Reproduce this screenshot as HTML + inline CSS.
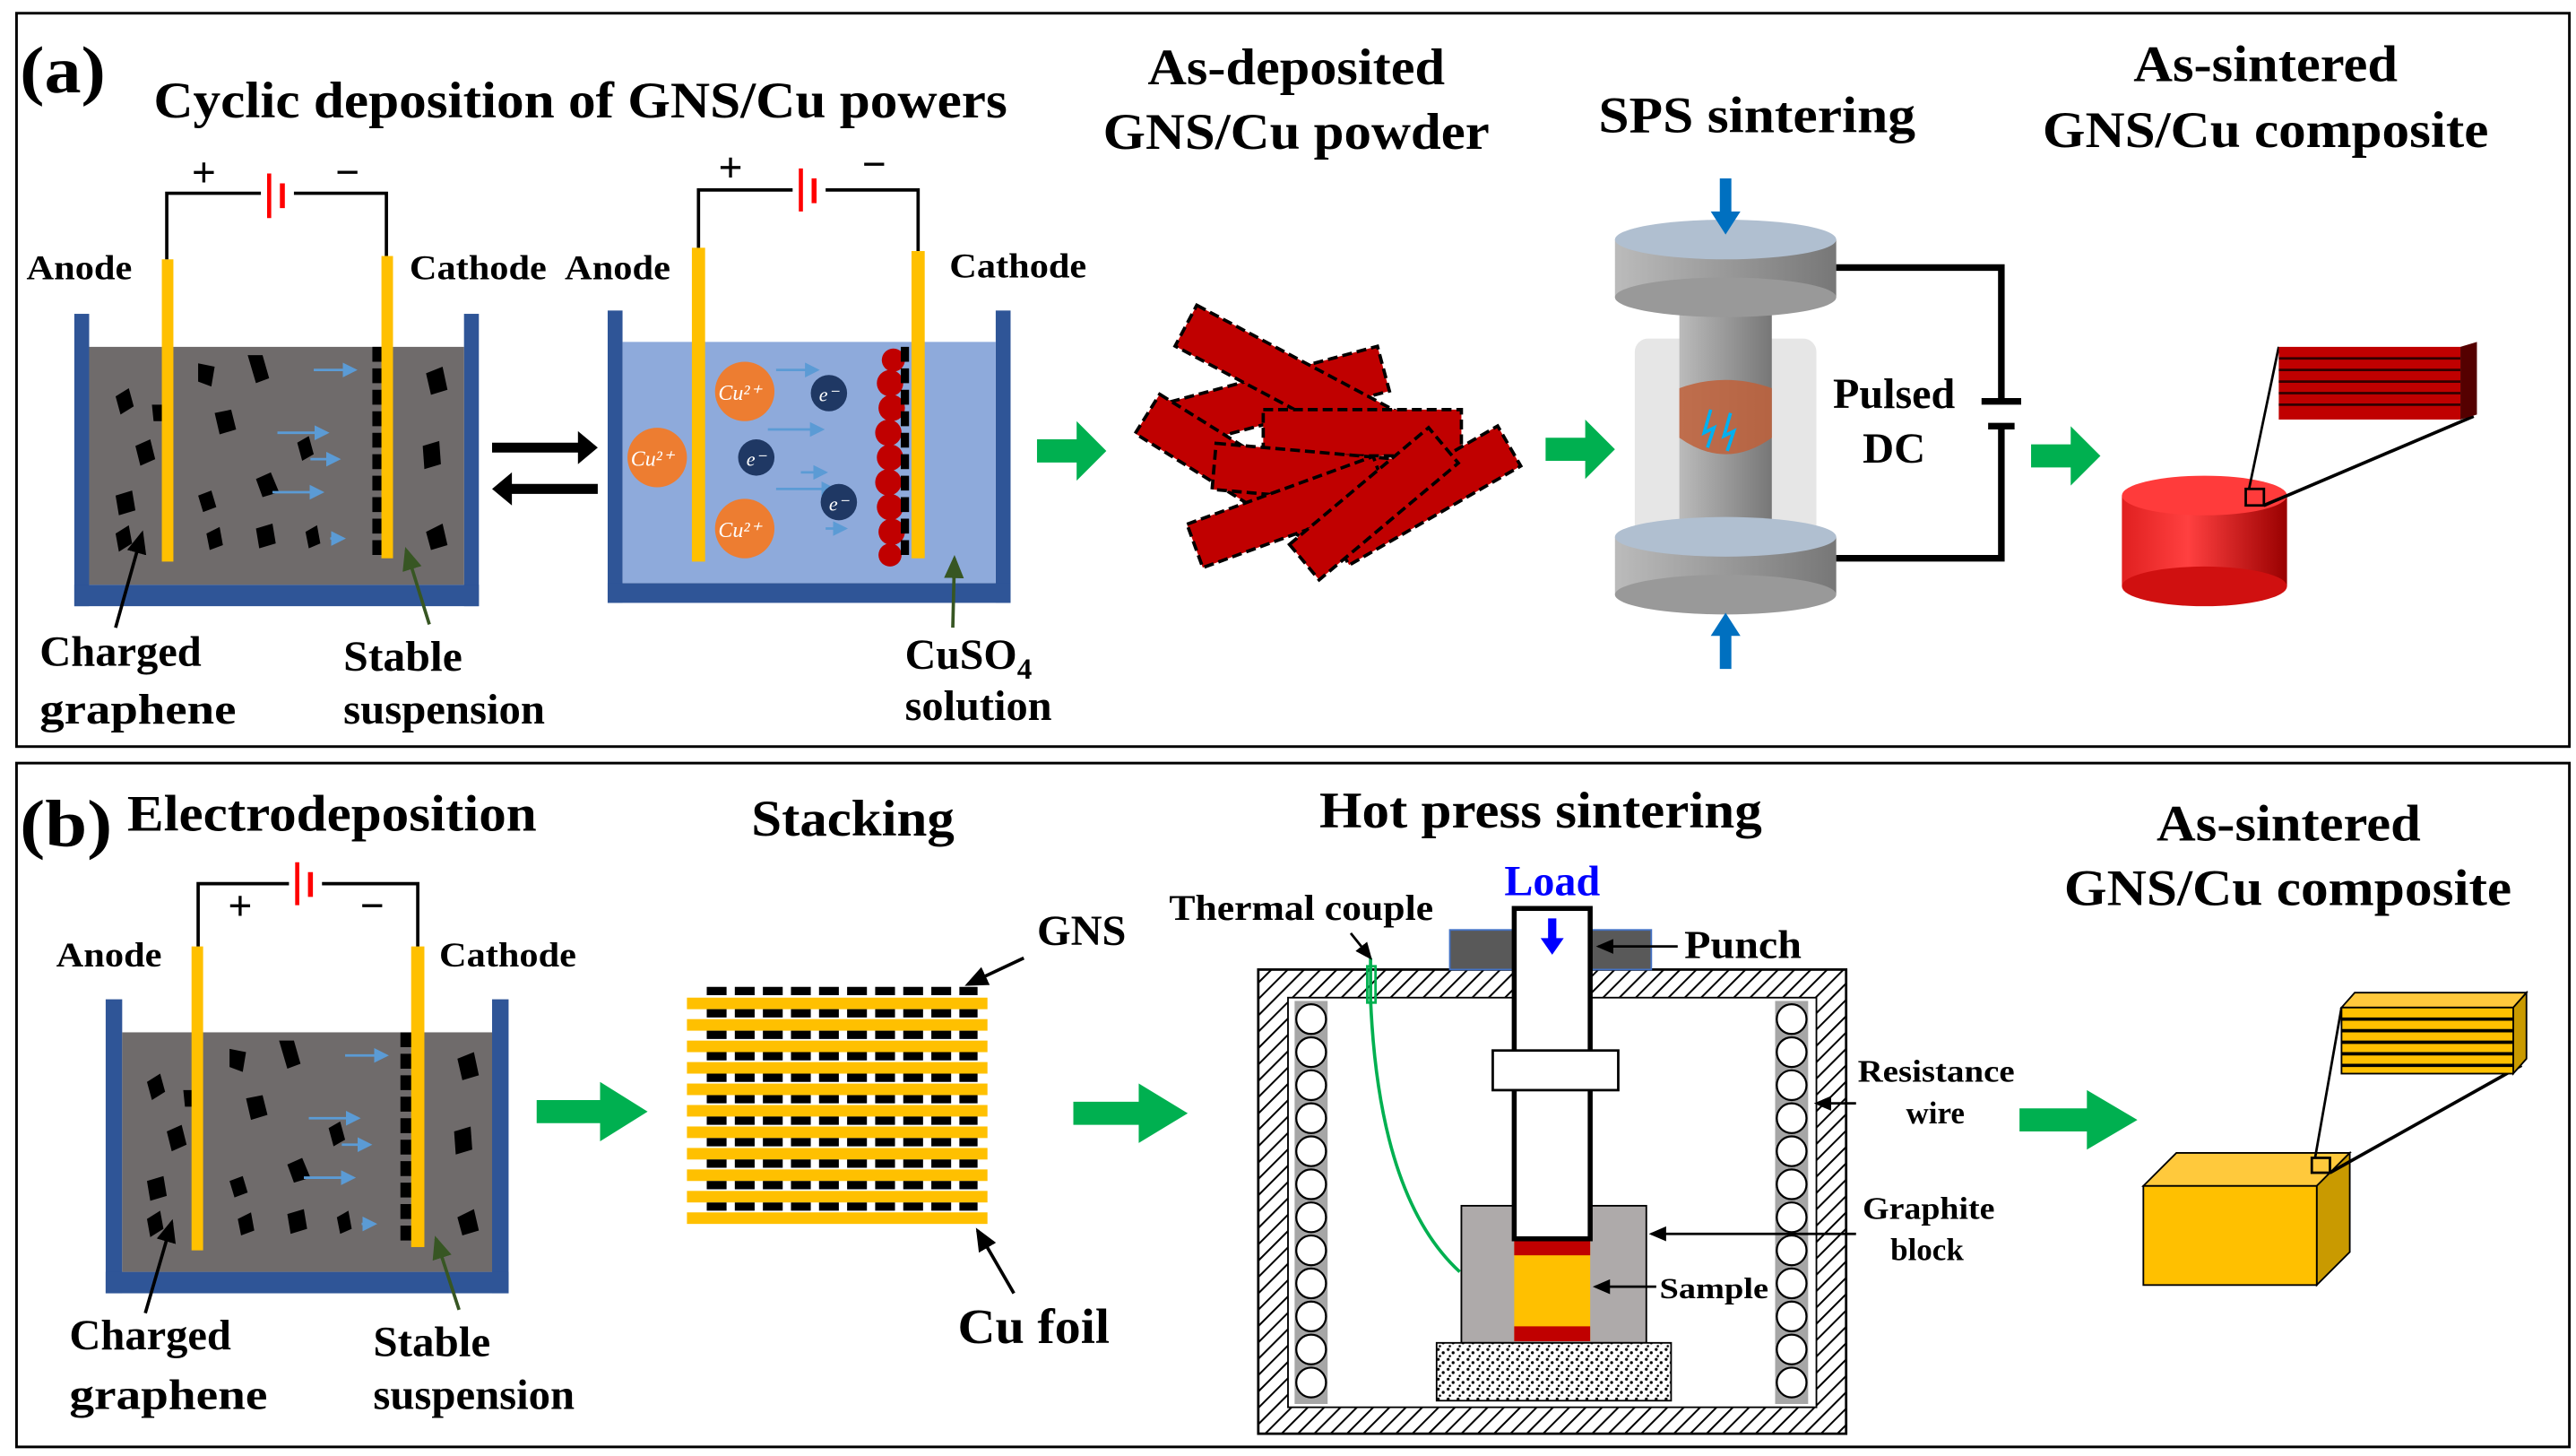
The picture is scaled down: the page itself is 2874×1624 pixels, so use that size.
<!DOCTYPE html>
<html><head><meta charset="utf-8"><style>
html,body{margin:0;padding:0;background:#fff;}
svg{display:block;}
text{font-family:"Liberation Serif",serif;font-weight:bold;fill:#000;}
</style></head><body>
<svg width="2874" height="1624" viewBox="0 0 1560 881.5" xmlns="http://www.w3.org/2000/svg">
<defs>
<pattern id="hatch" width="7" height="7" patternUnits="userSpaceOnUse" patternTransform="rotate(45)">
<rect width="7" height="7" fill="#fff"/><line x1="0" y1="0" x2="0" y2="7" stroke="#000" stroke-width="2.2"/></pattern>
<pattern id="speck" width="6" height="6" patternUnits="userSpaceOnUse">
<rect width="6" height="6" fill="#fff"/><circle cx="1" cy="1" r="0.9" fill="#000"/><circle cx="4" cy="3" r="0.9" fill="#000"/><circle cx="2" cy="5" r="0.7" fill="#000"/></pattern>
<linearGradient id="gcyl" x1="0" x2="1"><stop offset="0" stop-color="#bbb"/><stop offset="0.5" stop-color="#999"/><stop offset="1" stop-color="#777"/></linearGradient>
<linearGradient id="rcyl" x1="0" x2="1"><stop offset="0" stop-color="#e02020"/><stop offset="0.4" stop-color="#ff4040"/><stop offset="1" stop-color="#900"/></linearGradient>
<marker id="ah" markerWidth="8" markerHeight="8" refX="6" refY="4" orient="auto"><path d="M0 1 L7 4 L0 7 z" fill="#000"/></marker>
<marker id="ahg" markerWidth="8" markerHeight="8" refX="6" refY="4" orient="auto"><path d="M0 1 L7 4 L0 7 z" fill="#375623"/></marker>
<marker id="ahb" markerWidth="6" markerHeight="6" refX="5" refY="3" orient="auto"><path d="M0 0 L6 3 L0 6 z" fill="#5b9bd5"/></marker>
<g id="garr"><path d="M0 -7 h24 v-11 l18 18 l-18 18 v-11 h-24 z" fill="#00b050"/></g>
<g id="flk">
<path d="M70 240 l8 -5 l3 11 l-8 5z"/><path d="M82 270 l9 -4 l3 12 l-9 4z"/><path d="M120 220 l10 2 l-2 12 l-8 -3z"/>
<path d="M150 215 l9 0 l4 14 l-8 3z"/><path d="M130 250 l10 -2 l3 12 l-10 3z"/><path d="M155 290 l9 -4 l5 12 l-10 3z"/>
<path d="M120 300 l8 -3 l3 10 l-8 3z"/><path d="M70 300 l10 -3 l2 12 l-10 3z"/><path d="M70 323 l8 -5 l2 11 l-8 5z"/>
<path d="M125 323 l8 -4 l2 11 l-8 3z"/><path d="M155 320 l10 -3 l2 12 l-10 3z"/><path d="M185 322 l7 -4 l2 11 l-7 3z"/>
<path d="M180 268 l7 -4 l3 11 l-7 4z"/><path d="M258 226 l10 -4 l3 14 l-10 3z"/><path d="M256 270 l10 -3 l1 14 l-10 3z"/>
<path d="M258 322 l10 -5 l3 13 l-10 3z"/><path d="M92 245 l8 0 l1 10 l-8 0z"/>
</g>
</defs>

<rect x="10" y="8" width="1546" height="444" fill="none" stroke="#000" stroke-width="1.6"/>
<rect x="10" y="462" width="1546" height="414" fill="none" stroke="#000" stroke-width="1.6"/>

<text x="12" y="56" font-size="40" textLength="52" lengthAdjust="spacingAndGlyphs">(a)</text>
<text x="93" y="71" font-size="31" textLength="517" lengthAdjust="spacingAndGlyphs">Cyclic deposition of GNS/Cu powers</text>
<text x="695" y="51" font-size="31" textLength="180" lengthAdjust="spacingAndGlyphs">As-deposited</text>
<text x="668" y="90" font-size="31" textLength="234" lengthAdjust="spacingAndGlyphs">GNS/Cu powder</text>
<text x="968" y="80" font-size="31" textLength="192" lengthAdjust="spacingAndGlyphs">SPS sintering</text>
<text x="1292" y="49" font-size="31" textLength="160" lengthAdjust="spacingAndGlyphs">As-sintered</text>
<text x="1237" y="89" font-size="31" textLength="270" lengthAdjust="spacingAndGlyphs">GNS/Cu composite</text>

<!-- beaker 1 -->
<rect x="45" y="190" width="9" height="177" fill="#2f5597"/>
<rect x="281" y="190" width="9" height="177" fill="#2f5597"/>
<rect x="45" y="354" width="245" height="13" fill="#2f5597"/>
<rect x="54" y="210" width="227" height="144" fill="#6f6b6b"/>
<g fill="#000"><use href="#flk"/></g>
<line x1="229" y1="210" x2="229" y2="340" stroke="#000" stroke-width="7" stroke-dasharray="9 4"/>
<g stroke="#5b9bd5" stroke-width="1.5" marker-end="url(#ahb)">
<line x1="190" y1="224" x2="215" y2="224"/><line x1="168" y1="262" x2="198" y2="262"/><line x1="188" y1="278" x2="205" y2="278"/><line x1="165" y1="298" x2="195" y2="298"/><line x1="200" y1="326" x2="208" y2="326"/>
</g>
<rect x="98" y="157" width="7" height="183" fill="#ffc000"/>
<rect x="231" y="155" width="7" height="183" fill="#ffc000"/>
<path d="M101 157 V117 H234 V155" fill="none" stroke="#000" stroke-width="2"/>
<rect x="158" y="108" width="20" height="18" fill="#fff"/>
<line x1="163" y1="105" x2="163" y2="132" stroke="#f00" stroke-width="2.5"/>
<line x1="171" y1="111" x2="171" y2="126" stroke="#f00" stroke-width="3"/>
<text x="116" y="113" font-size="26" font-weight="normal">+</text>
<text x="203" y="113" font-size="26" font-weight="normal">−</text>
<text x="16" y="169" font-size="21" textLength="64" lengthAdjust="spacingAndGlyphs">Anode</text>
<text x="248" y="169" font-size="21" textLength="83" lengthAdjust="spacingAndGlyphs">Cathode</text>
<line x1="70" y1="380" x2="86" y2="323" stroke="#000" stroke-width="2" marker-end="url(#ah)"/>
<line x1="260" y1="378" x2="246" y2="333" stroke="#375623" stroke-width="2" marker-end="url(#ahg)"/>
<text x="24" y="403" font-size="26" textLength="98" lengthAdjust="spacingAndGlyphs">Charged</text>
<text x="24" y="438" font-size="26" textLength="119" lengthAdjust="spacingAndGlyphs">graphene</text>
<text x="208" y="406" font-size="26" textLength="72" lengthAdjust="spacingAndGlyphs">Stable</text>
<text x="208" y="438" font-size="26" textLength="122" lengthAdjust="spacingAndGlyphs">suspension</text>

<path d="M298 268 h52 v-7 l12 10 l-12 10 v-7 h-52z" fill="#000"/>
<path d="M362 293 h-52 v-7 l-12 10 l12 10 v-7 h52z" fill="#000"/>

<!-- beaker 2 -->
<rect x="368" y="188" width="9" height="177" fill="#2f5597"/>
<rect x="603" y="188" width="9" height="177" fill="#2f5597"/>
<rect x="368" y="353" width="244" height="12" fill="#2f5597"/>
<rect x="377" y="207" width="226" height="146" fill="#8eaadb"/>
<g stroke="#5b9bd5" stroke-width="1.5" marker-end="url(#ahb)">
<line x1="470" y1="224" x2="495" y2="224"/><line x1="465" y1="260" x2="498" y2="260"/><line x1="485" y1="286" x2="500" y2="286"/><line x1="470" y1="296" x2="505" y2="296"/><line x1="500" y1="320" x2="512" y2="320"/>
</g>
<g fill="#c00000">
<circle cx="541" cy="218" r="7"/><circle cx="539" cy="232" r="8"/><circle cx="540" cy="247" r="8"/><circle cx="538" cy="262" r="8"/><circle cx="539" cy="277" r="8"/><circle cx="538" cy="292" r="8"/><circle cx="539" cy="307" r="8"/><circle cx="540" cy="322" r="8"/><circle cx="539" cy="336" r="7"/>
</g>
<line x1="548" y1="210" x2="548" y2="340" stroke="#000" stroke-width="5" stroke-dasharray="9 4"/>
<rect x="419" y="150" width="8" height="190" fill="#ffc000"/>
<rect x="552" y="152" width="8" height="186" fill="#ffc000"/>
<path d="M423 150 V115 H556 V152" fill="none" stroke="#000" stroke-width="2"/>
<rect x="480" y="105" width="20" height="18" fill="#fff"/>
<line x1="485" y1="102" x2="485" y2="128" stroke="#f00" stroke-width="2.5"/>
<line x1="493" y1="108" x2="493" y2="123" stroke="#f00" stroke-width="3"/>
<text x="435" y="110" font-size="26" font-weight="normal">+</text>
<text x="522" y="108" font-size="26" font-weight="normal">−</text>
<g fill="#ed7d31"><circle cx="451" cy="237" r="18"/><circle cx="398" cy="277" r="18"/><circle cx="451" cy="320" r="18"/></g>
<text x="435" y="242" font-size="13" style="fill:#fff;font-weight:normal;font-style:italic">Cu²⁺</text>
<text x="382" y="282" font-size="13" style="fill:#fff;font-weight:normal;font-style:italic">Cu²⁺</text>
<text x="435" y="325" font-size="13" style="fill:#fff;font-weight:normal;font-style:italic">Cu²⁺</text>
<g fill="#1f3864"><circle cx="502" cy="238" r="11"/><circle cx="458" cy="277" r="11"/><circle cx="508" cy="304" r="11"/></g>
<text x="496" y="243" font-size="12" style="fill:#fff;font-weight:normal;font-style:italic">e⁻</text>
<text x="452" y="282" font-size="12" style="fill:#fff;font-weight:normal;font-style:italic">e⁻</text>
<text x="502" y="309" font-size="12" style="fill:#fff;font-weight:normal;font-style:italic">e⁻</text>
<text x="342" y="169" font-size="21" textLength="64" lengthAdjust="spacingAndGlyphs">Anode</text>
<text x="575" y="168" font-size="21" textLength="83" lengthAdjust="spacingAndGlyphs">Cathode</text>
<line x1="577" y1="380" x2="578" y2="338" stroke="#375623" stroke-width="2" marker-end="url(#ahg)"/>
<text x="548" y="405" font-size="26">CuSO<tspan font-size="18" dy="6">4</tspan></text>
<text x="548" y="436" font-size="26" textLength="89" lengthAdjust="spacingAndGlyphs">solution</text>

<use href="#garr" x="628" y="273"/>
<use href="#garr" x="936" y="272"/>
<use href="#garr" x="1230" y="276"/>

<!-- red rods -->
<g fill="#c00000" stroke="#000" stroke-width="2" stroke-dasharray="6 3">
<rect x="-65" y="-14" width="130" height="28" transform="translate(775 240) rotate(-15)"/>
<rect x="-70" y="-14" width="140" height="28" transform="translate(780 230) rotate(28)"/>
<rect x="-60" y="-14" width="120" height="28" transform="translate(825 262) rotate(0)"/>
<rect x="-65" y="-14" width="130" height="28" transform="translate(750 285) rotate(32)"/>
<rect x="-65" y="-14" width="130" height="28" transform="translate(800 288) rotate(5)"/>
<rect x="-60" y="-14" width="120" height="28" transform="translate(862 300) rotate(-30)"/>
<rect x="-60" y="-14" width="120" height="28" transform="translate(780 310) rotate(-20)"/>
<rect x="-55" y="-14" width="110" height="28" transform="translate(832 305) rotate(-40)"/>
</g>

<!-- SPS -->
<rect x="990" y="205" width="110" height="125" rx="8" fill="#e0e0e0" opacity="0.8"/>
<rect x="1017" y="165" width="56" height="170" fill="url(#gcyl)"/>
<path d="M1017 265 q28 20 56 0 v-30 q-28 -10 -56 0z" fill="#c0603a" opacity="0.85"/>
<path d="M1036 248 l-4 14 l6 -3 l-4 12" stroke="#00b0f0" stroke-width="2" fill="none"/>
<path d="M1048 250 l-4 14 l6 -3 l-4 12" stroke="#00b0f0" stroke-width="2" fill="none"/>
<rect x="978" y="145" width="134" height="35" fill="url(#gcyl)"/>
<ellipse cx="1045" cy="180" rx="67" ry="12" fill="#999"/>
<ellipse cx="1045" cy="145" rx="67" ry="12" fill="#b0bfd0"/>
<rect x="978" y="325" width="134" height="35" fill="url(#gcyl)"/>
<ellipse cx="1045" cy="360" rx="67" ry="12" fill="#999"/>
<ellipse cx="1045" cy="325" rx="67" ry="12" fill="#b0bfd0"/>
<path d="M1045 108 v22" stroke="#0070c0" stroke-width="7"/><path d="M1036 128 h18 l-9 14z" fill="#0070c0"/>
<path d="M1045 405 v-22" stroke="#0070c0" stroke-width="7"/><path d="M1036 385 h18 l-9 -14z" fill="#0070c0"/>
<path d="M1112 162 H1212 V243" fill="none" stroke="#000" stroke-width="4"/>
<path d="M1112 338 H1212 V258" fill="none" stroke="#000" stroke-width="4"/>
<line x1="1200" y1="243" x2="1224" y2="243" stroke="#000" stroke-width="4"/>
<line x1="1204" y1="258" x2="1220" y2="258" stroke="#000" stroke-width="4"/>
<text x="1110" y="247" font-size="26" textLength="74" lengthAdjust="spacingAndGlyphs">Pulsed</text>
<text x="1128" y="280" font-size="26" textLength="38" lengthAdjust="spacingAndGlyphs">DC</text>

<!-- red cylinder -->
<rect x="1285" y="300" width="100" height="55" fill="url(#rcyl)"/>
<ellipse cx="1335" cy="355" rx="50" ry="12" fill="#d01010"/>
<ellipse cx="1335" cy="300" rx="50" ry="12" fill="#ff3b3b"/>
<rect x="1360" y="296" width="11" height="10" fill="none" stroke="#000" stroke-width="1.5"/>
<line x1="1362" y1="296" x2="1380" y2="210" stroke="#000" stroke-width="1.5"/>
<line x1="1371" y1="306" x2="1498" y2="252" stroke="#000" stroke-width="2"/>
<rect x="1380" y="210" width="110" height="44" fill="#c00000"/>
<path d="M1490 210 l10 -3 v44 l-10 3z" fill="#500"/>
<g stroke="#300" stroke-width="1.5"><line x1="1380" y1="217" x2="1490" y2="217"/><line x1="1380" y1="224" x2="1490" y2="224"/><line x1="1380" y1="231" x2="1490" y2="231"/><line x1="1380" y1="238" x2="1490" y2="238"/><line x1="1380" y1="245" x2="1490" y2="245"/></g>

<!-- ===== Panel b ===== -->
<text x="12" y="512" font-size="40" textLength="56" lengthAdjust="spacingAndGlyphs">(b)</text>
<text x="77" y="503" font-size="31" textLength="248" lengthAdjust="spacingAndGlyphs">Electrodeposition</text>
<text x="455" y="506" font-size="31" textLength="123" lengthAdjust="spacingAndGlyphs">Stacking</text>
<text x="799" y="501" font-size="31" textLength="268" lengthAdjust="spacingAndGlyphs">Hot press sintering</text>
<text x="1306" y="509" font-size="31" textLength="160" lengthAdjust="spacingAndGlyphs">As-sintered</text>
<text x="1250" y="548" font-size="31" textLength="271" lengthAdjust="spacingAndGlyphs">GNS/Cu composite</text>

<rect x="64" y="605" width="10" height="178" fill="#2f5597"/>
<rect x="298" y="605" width="10" height="178" fill="#2f5597"/>
<rect x="64" y="770" width="244" height="13" fill="#2f5597"/>
<rect x="74" y="625" width="224" height="145" fill="#6f6b6b"/>
<g fill="#000" transform="translate(19 415)"><use href="#flk"/></g>
<line x1="246" y1="625" x2="246" y2="755" stroke="#000" stroke-width="7" stroke-dasharray="9 4"/>
<g stroke="#5b9bd5" stroke-width="1.5" marker-end="url(#ahb)" transform="translate(19 415)">
<line x1="190" y1="224" x2="215" y2="224"/><line x1="168" y1="262" x2="198" y2="262"/><line x1="188" y1="278" x2="205" y2="278"/><line x1="165" y1="298" x2="195" y2="298"/><line x1="200" y1="326" x2="208" y2="326"/>
</g>
<rect x="116" y="573" width="7" height="184" fill="#ffc000"/>
<rect x="249" y="573" width="8" height="182" fill="#ffc000"/>
<path d="M120 573 V535 H253 V573" fill="none" stroke="#000" stroke-width="2"/>
<rect x="175" y="525" width="20" height="18" fill="#fff"/>
<line x1="180" y1="522" x2="180" y2="548" stroke="#f00" stroke-width="2.5"/>
<line x1="188" y1="528" x2="188" y2="543" stroke="#f00" stroke-width="3"/>
<text x="138" y="557" font-size="26" font-weight="normal">+</text>
<text x="218" y="557" font-size="26" font-weight="normal">−</text>
<text x="34" y="585" font-size="21" textLength="64" lengthAdjust="spacingAndGlyphs">Anode</text>
<text x="266" y="585" font-size="21" textLength="83" lengthAdjust="spacingAndGlyphs">Cathode</text>
<line x1="88" y1="795" x2="104" y2="740" stroke="#000" stroke-width="2" marker-end="url(#ah)"/>
<line x1="278" y1="793" x2="264" y2="750" stroke="#375623" stroke-width="2" marker-end="url(#ahg)"/>
<text x="42" y="817" font-size="26" textLength="98" lengthAdjust="spacingAndGlyphs">Charged</text>
<text x="42" y="853" font-size="26" textLength="120" lengthAdjust="spacingAndGlyphs">graphene</text>
<text x="226" y="821" font-size="26" textLength="71" lengthAdjust="spacingAndGlyphs">Stable</text>
<text x="226" y="853" font-size="26" textLength="122" lengthAdjust="spacingAndGlyphs">suspension</text>

<use href="#garr" transform="translate(325 673) scale(1.6 1)"/>
<use href="#garr" transform="translate(650 674) scale(1.65 1)"/>
<use href="#garr" transform="translate(1223 678) scale(1.7 1)"/>

<!-- stacking -->
<g fill="#ffc000">
<rect x="416" y="604" width="182" height="7"/><rect x="416" y="617" width="182" height="7"/><rect x="416" y="630" width="182" height="7"/><rect x="416" y="643" width="182" height="7"/><rect x="416" y="656" width="182" height="7"/><rect x="416" y="669" width="182" height="7"/><rect x="416" y="682" width="182" height="7"/><rect x="416" y="695" width="182" height="7"/><rect x="416" y="708" width="182" height="7"/><rect x="416" y="721" width="182" height="7"/><rect x="416" y="734" width="182" height="7"/>
</g>
<g stroke="#000" stroke-width="5" stroke-dasharray="12 5">
<line x1="428" y1="600" x2="592" y2="600"/><line x1="428" y1="613.5" x2="592" y2="613.5"/><line x1="428" y1="626.5" x2="592" y2="626.5"/><line x1="428" y1="639.5" x2="592" y2="639.5"/><line x1="428" y1="652.5" x2="592" y2="652.5"/><line x1="428" y1="665.5" x2="592" y2="665.5"/><line x1="428" y1="678.5" x2="592" y2="678.5"/><line x1="428" y1="691.5" x2="592" y2="691.5"/><line x1="428" y1="704.5" x2="592" y2="704.5"/><line x1="428" y1="717.5" x2="592" y2="717.5"/><line x1="428" y1="730.5" x2="592" y2="730.5"/>
</g>
<line x1="620" y1="580" x2="586" y2="596" stroke="#000" stroke-width="2" marker-end="url(#ah)"/>
<line x1="614" y1="783" x2="592" y2="745" stroke="#000" stroke-width="2" marker-end="url(#ah)"/>
<text x="628" y="572" font-size="26" textLength="54" lengthAdjust="spacingAndGlyphs">GNS</text>
<text x="580" y="813" font-size="30" textLength="92" lengthAdjust="spacingAndGlyphs">Cu foil</text>

<!-- hot press -->
<rect x="762" y="587" width="356" height="281" fill="url(#hatch)" stroke="#000" stroke-width="1.5"/>
<rect x="780" y="604" width="320" height="248" fill="#fff" stroke="#000" stroke-width="1"/>
<rect x="784" y="606" width="20" height="244" fill="#a6a6a6"/>
<rect x="1075" y="606" width="20" height="244" fill="#a6a6a6"/>
<g fill="#fff" stroke="#000" stroke-width="1.2" id="coils">
<circle cx="794" cy="617" r="9"/><circle cx="794" cy="637" r="9"/><circle cx="794" cy="657" r="9"/><circle cx="794" cy="677" r="9"/><circle cx="794" cy="697" r="9"/><circle cx="794" cy="717" r="9"/><circle cx="794" cy="737" r="9"/><circle cx="794" cy="757" r="9"/><circle cx="794" cy="777" r="9"/><circle cx="794" cy="797" r="9"/><circle cx="794" cy="817" r="9"/><circle cx="794" cy="837" r="9"/>
</g>
<use href="#coils" x="291" y="0"/>
<rect x="878" y="563" width="122" height="24" fill="#595959" stroke="#4472c4" stroke-width="1"/>
<rect x="885" y="730" width="112" height="83" fill="#aeaaaa" stroke="#000" stroke-width="1"/>
<rect x="917" y="750" width="46" height="62" fill="#ffc000"/>
<rect x="917" y="750" width="46" height="10" fill="#c00000"/>
<rect x="917" y="803" width="46" height="9" fill="#c00000"/>
<rect x="917" y="550" width="46" height="200" fill="#fff" stroke="#000" stroke-width="3"/>
<rect x="904" y="636" width="76" height="24" fill="#fff" stroke="#000" stroke-width="1.5"/>
<rect x="870" y="813" width="142" height="35" fill="url(#speck)" stroke="#000" stroke-width="1"/>
<path d="M940 556 v14" stroke="#0000ff" stroke-width="5"/><path d="M933 568 h14 l-7 10z" fill="#0000ff"/>
<path d="M830 580 v25 q5 120 54 165" fill="none" stroke="#00b050" stroke-width="2"/>
<rect x="828" y="585" width="5" height="22" fill="none" stroke="#00b050" stroke-width="1.5"/>
<line x1="818" y1="565" x2="830" y2="580" stroke="#000" stroke-width="1.5" marker-end="url(#ah)"/>
<text x="708" y="557" font-size="22" textLength="160" lengthAdjust="spacingAndGlyphs">Thermal couple</text>
<text x="911" y="542" font-size="26" textLength="58" lengthAdjust="spacingAndGlyphs" style="fill:#0000ff">Load</text>
<line x1="1016" y1="573" x2="968" y2="573" stroke="#000" stroke-width="1.5" marker-end="url(#ah)"/>
<text x="1020" y="580" font-size="24" textLength="71" lengthAdjust="spacingAndGlyphs">Punch</text>
<line x1="1124" y1="668" x2="1100" y2="668" stroke="#000" stroke-width="1.5" marker-end="url(#ah)"/>
<text x="1125" y="655" font-size="19" textLength="95" lengthAdjust="spacingAndGlyphs">Resistance</text>
<text x="1172" y="680" font-size="19" text-anchor="middle">wire</text>
<line x1="1124" y1="747" x2="1000" y2="747" stroke="#000" stroke-width="1.5" marker-end="url(#ah)"/>
<text x="1128" y="738" font-size="19" textLength="80" lengthAdjust="spacingAndGlyphs">Graphite</text>
<text x="1167" y="763" font-size="19" text-anchor="middle">block</text>
<line x1="1003" y1="779" x2="966" y2="779" stroke="#000" stroke-width="1.5" marker-end="url(#ah)"/>
<text x="1005" y="786" font-size="18" textLength="66" lengthAdjust="spacingAndGlyphs">Sample</text>

<!-- yellow cube -->
<path d="M1298 718 l20 -20 h105 l-20 20z" fill="#ffc93c" stroke="#000" stroke-width="1"/>
<path d="M1403 718 l20 -20 v60 l-20 20z" fill="#c99a00" stroke="#000" stroke-width="1"/>
<rect x="1298" y="718" width="105" height="60" fill="#ffc000" stroke="#000" stroke-width="1"/>
<rect x="1400" y="701" width="11" height="9" fill="none" stroke="#000" stroke-width="1.5"/>
<line x1="1402" y1="701" x2="1418" y2="610" stroke="#000" stroke-width="1.5"/>
<line x1="1411" y1="710" x2="1527" y2="645" stroke="#000" stroke-width="2"/>
<path d="M1418 610 l8 -9 h104 l-8 9z" fill="#ffc93c" stroke="#000"/>
<path d="M1522 610 l8 -9 v40 l-8 9z" fill="#c99a00" stroke="#000"/>
<rect x="1418" y="610" width="104" height="40" fill="#ffc000" stroke="#000"/>
<g stroke="#000" stroke-width="2"><line x1="1418" y1="617" x2="1522" y2="617"/><line x1="1418" y1="624" x2="1522" y2="624"/><line x1="1418" y1="631" x2="1522" y2="631"/><line x1="1418" y1="638" x2="1522" y2="638"/><line x1="1418" y1="645" x2="1522" y2="645"/></g>
</svg>
</body></html>
